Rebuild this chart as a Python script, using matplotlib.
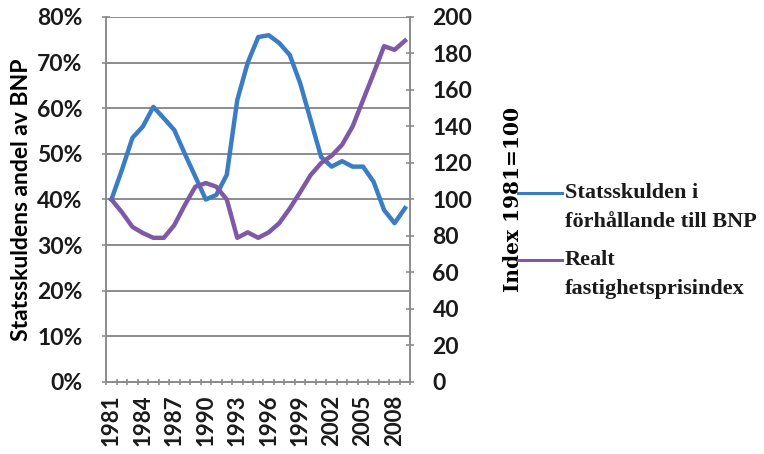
import numpy as np
import matplotlib
matplotlib.use("Agg")
import matplotlib.pyplot as plt
from matplotlib.lines import Line2D
from matplotlib.ticker import FixedLocator, FuncFormatter

# Years 1981-2009
years = list(range(1981, 2010))

# Government debt as share of GDP (%)
statsskuld = [40, 46.5, 53.5, 56, 60.3, 57.8, 55.2, 50, 45, 40,
              41, 45.4, 61.8, 70, 75.6, 76, 74.3, 71.7, 65.5, 57.4,
              49.3, 47.2, 48.4, 47.2, 47.2, 43.9, 37.7, 34.8, 38.1]

# Real property price index (1981 = 100)
fastighetspris = [100, 93, 85, 81.6, 79, 79, 86, 97, 107, 109,
                  107, 100, 79, 82, 79, 82, 87, 95, 104, 113.4,
                  120, 124, 130, 140, 154.5, 169, 184, 182, 187]

legend_labels = [["Statsskulden i", "förhållande till BNP"],
                 ["Realt", "fastighetsprisindex"]]

blue = "#3b7dc4"
purple = "#7e5aa6"
grid_col = "#8c8c8c"
sans = ["Lato", "DejaVu Sans"]
serif = ["Liberation Serif", "DejaVu Serif"]

fig = plt.figure(figsize=(7.64, 4.54), dpi=100)
ax = fig.add_axes([0.139, 0.1586, 0.398, 0.804])
ax2 = ax.twinx()

x = np.arange(len(years))
l1, = ax.plot(x, statsskuld, color=blue, lw=3.2, solid_joinstyle="round")
l2, = ax2.plot(x, fastighetspris, color=purple, lw=3.2, solid_joinstyle="round")

ax.set_xlim(-0.5, len(years) - 0.5)
ax.set_ylim(0, 80)
ax2.set_ylim(0, 200)

ax.set_yticks(np.arange(0, 81, 10))
ax.yaxis.set_major_formatter(FuncFormatter(lambda v, p: f"{int(v)}%"))
ax2.set_yticks(np.arange(0, 201, 20))

# category boundaries get tick marks, labels sit at every third year
ax.xaxis.set_major_locator(FixedLocator(np.arange(-0.5, len(years), 1)))
ax.xaxis.set_major_formatter(FuncFormatter(lambda v, p: ""))
ax.xaxis.set_minor_locator(FixedLocator(x[::3]))
ax.xaxis.set_minor_formatter(FuncFormatter(lambda v, p: str(years[int(round(v))])))
ax.tick_params(axis="x", which="minor", length=0, pad=9, rotation=90)
ax.tick_params(axis="x", which="major", length=5, direction="inout",
               color=grid_col, width=1.2)

ax.grid(axis="y", color=grid_col, lw=1.4)
ax.set_axisbelow(True)
for a in (ax, ax2):
    for s in a.spines.values():
        s.set_color(grid_col)
        s.set_linewidth(1.4)
    a.spines["top"].set_visible(False)
ax2.spines["left"].set_visible(False)
ax.spines["right"].set_visible(False)

ax.tick_params(axis="y", length=6, direction="inout", color=grid_col, width=1.2, pad=14)
ax2.tick_params(axis="y", length=6, direction="inout", color=grid_col, width=1.2, pad=13)

for lbl in ax.get_yticklabels() + ax2.get_yticklabels():
    lbl.set_fontfamily(sans)
    lbl.set_fontweight("bold")
    lbl.set_fontsize(16.5)
    lbl.set_color("#1a1a1a")
for lbl in ax.get_xticklabels(minor=True):
    lbl.set_fontfamily(sans)
    lbl.set_fontweight("bold")
    lbl.set_fontsize(16)
    lbl.set_color("#1a1a1a")

ax.set_ylabel("Statsskuldens andel av BNP", fontfamily=sans, fontweight="bold",
              fontsize=16.5, labelpad=4)
ax2.set_ylabel("Index 1981=100", fontfamily=["DejaVu Serif"], fontweight="bold",
               fontsize=14.5, labelpad=22)

# legend: short line next to the first line of each two-line label
W, H = 764.0, 454.0
for (first, second), col, y0 in zip(legend_labels, (blue, purple), (193, 260)):
    fig.add_artist(Line2D([518 / W, 562 / W], [1 - y0 / H, 1 - y0 / H],
                          color=col, lw=2.2, transform=fig.transFigure))
    fig.text(565 / W, 1 - y0 / H, first, fontfamily=serif, fontweight="bold",
             fontsize=16, va="center", ha="left", color="#1a1a1a")
    fig.text(565 / W, 1 - (y0 + 29) / H, second, fontfamily=serif, fontweight="bold",
             fontsize=16, va="center", ha="left", color="#1a1a1a")

fig.savefig("out.png", dpi=100)
